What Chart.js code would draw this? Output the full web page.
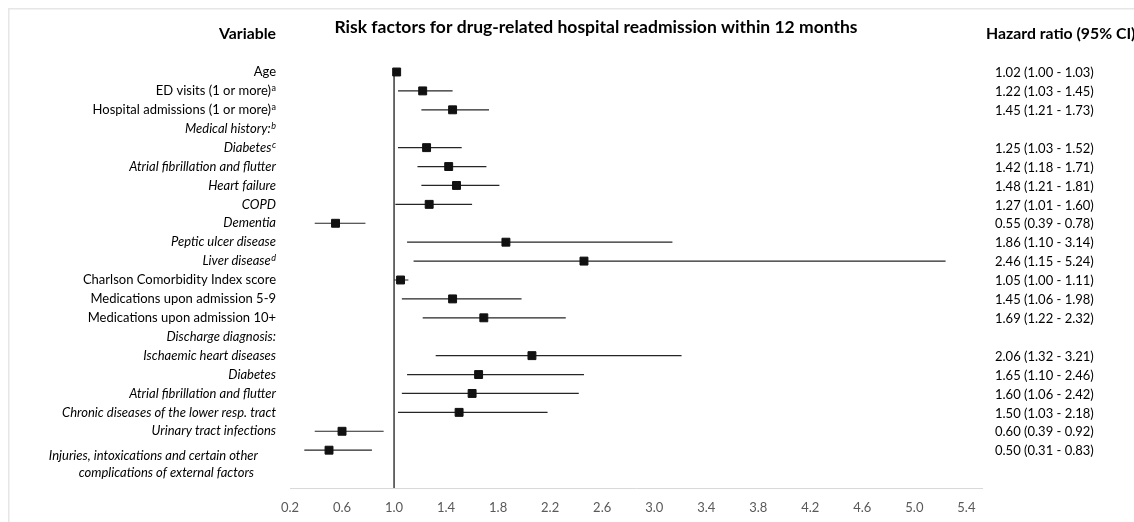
<!DOCTYPE html>
<html>
<head>
<meta charset="utf-8">
<script src="https://cdn.jsdelivr.net/npm/chart.js@4.4.1/dist/chart.umd.min.js"></script>
<style>
html,body{margin:0;padding:0;background:#fff;}
#wrap{width:1134px;height:522px;position:relative;}
</style>
</head>
<body>
<div id="wrap"><canvas id="c" width="1134" height="522"></canvas></div>
<script>
// ---- data ----
const labels = [
  "Age",
  "ED visits (1 or more)",
  "Hospital admissions (1 or more)",
  "Medical history:",
  "Diabetes",
  "Atrial fibrillation and flutter",
  "Heart failure",
  "COPD",
  "Dementia",
  "Peptic ulcer disease",
  "Liver disease",
  "Charlson Comorbidity Index score",
  "Medications upon admission 5-9",
  "Medications upon admission 10+",
  "Discharge diagnosis:",
  "Ischaemic heart diseases",
  "Diabetes",
  "Atrial fibrillation and flutter",
  "Chronic diseases of the lower resp. tract",
  "Urinary tract infections",
  "Injuries, intoxications and certain other\ncomplications of external factors"
];
const superscripts = ["", "a", "a", "b", "c", "", "", "", "", "", "d", "", "", "", "", "", "", "", "", "", ""];
const italicRows = [false, false, false, true, true, true, true, true, true, true, true, false, false, false, true, true, true, true, true, true, true];
const hr = [1.02, 1.22, 1.45, null, 1.25, 1.42, 1.48, 1.27, 0.55, 1.86, 2.46, 1.05, 1.45, 1.69, null, 2.06, 1.65, 1.60, 1.50, 0.60, 0.50];
const lo = [1.00, 1.03, 1.21, null, 1.03, 1.18, 1.21, 1.01, 0.39, 1.10, 1.15, 1.00, 1.06, 1.22, null, 1.32, 1.10, 1.06, 1.03, 0.39, 0.31];
const hi = [1.03, 1.45, 1.73, null, 1.52, 1.71, 1.81, 1.60, 0.78, 3.14, 5.24, 1.11, 1.98, 2.32, null, 3.21, 2.46, 2.42, 2.18, 0.92, 0.83];
const xTicks = [0.2, 0.6, 1.0, 1.4, 1.8, 2.2, 2.6, 3.0, 3.4, 3.8, 4.2, 4.6, 5.0, 5.4];
const title = "Risk factors for drug-related hospital readmission within 12 months";
const leftHeader = "Variable";
const rightHeader = "Hazard ratio (95% CI)";

// ---- build ----
const nRows = labels.length;
const rowY = i => nRows + 1 - i; // Age at 22, last row at 2
const markers = [];
const bars = [];
hr.forEach((v, i) => {
  if (v === null) return;
  markers.push({x: v, y: rowY(i)});
  bars.push({x: lo[i], y: rowY(i)}, {x: hi[i], y: rowY(i)}, {x: null, y: null});
});
const refLine = [{x: 1, y: 0}, {x: 1, y: rowY(0)}];

const FONT = "Lato, 'Open Sans', sans-serif";

const textPlugin = {
  id: 'texts',
  afterDraw(chart) {
    const ctx = chart.ctx;
    const ys = chart.scales.y;
    ctx.save();
    // frame
    ctx.fillStyle = '#e6e6e6';
    ctx.fillRect(8, 8, 1126, 1.5);
    ctx.fillRect(8, 8, 1.5, 514);
    // headers
    ctx.fillStyle = '#000';
    ctx.textBaseline = 'middle';
    ctx.font = "bold 17.5px " + FONT;
    ctx.textAlign = 'center';
    ctx.fillText(title, 596, 27);
    ctx.font = "bold 15.8px " + FONT;
    ctx.textAlign = 'right';
    ctx.fillText(leftHeader, 276, 34);
    ctx.textAlign = 'left';
    ctx.fillText(rightHeader, 986, 34);
    // row labels
    labels.forEach((lab, i) => {
      const y = ys.getPixelForValue(rowY(i));
      const style = italicRows[i] ? 'italic ' : '';
      const lines = lab.split('\n');
      ctx.fillStyle = '#000';
      if (lines.length === 1) {
        let x = 276;
        if (superscripts[i]) {
          ctx.font = style + "9px " + FONT;
          ctx.textAlign = 'right';
          const w = ctx.measureText(superscripts[i]).width;
          ctx.fillText(superscripts[i], x, y - 3);
          x -= w + 0.5;
        }
        ctx.font = style + "13px " + FONT;
        ctx.textAlign = 'right';
        ctx.fillText(lab, x, y);
      } else {
        ctx.font = style + "13px " + FONT;
        ctx.textAlign = 'right';
        ctx.fillText(lines[0], 258, y + 6);
        ctx.fillText(lines[1], 254, y + 23);
      }
      if (hr[i] !== null) {
        ctx.font = "13px " + FONT;
        ctx.textAlign = 'left';
        ctx.fillText(hr[i].toFixed(2) + " (" + lo[i].toFixed(2) + " - " + hi[i].toFixed(2) + ")", 995, y + 1);
      }
    });
    ctx.restore();
  }
};

new Chart(document.getElementById('c'), {
  type: 'scatter',
  data: {
    datasets: [
      {data: refLine, showLine: true, borderColor: '#3a3a3a', borderWidth: 1.5, pointRadius: 0, clip: false, order: 3},
      {data: bars, showLine: true, spanGaps: false, borderColor: '#262626', borderWidth: 1.2, pointRadius: 0, clip: false, order: 2},
      {data: markers, pointStyle: 'rect', pointRadius: 5.6, backgroundColor: '#111', borderColor: '#111', borderWidth: 1, clip: false, order: 1}
    ]
  },
  options: {
    responsive: false,
    animation: false,
    devicePixelRatio: 1,
    layout: {padding: {left: 290, right: 152, top: 72, bottom: 0}},
    plugins: {legend: {display: false}, tooltip: {enabled: false}, title: {display: false}},
    scales: {
      x: {
        type: 'linear', min: 0.2, max: 5.52,
        afterBuildTicks: s => { s.ticks = xTicks.map(v => ({value: v})); },
        afterFit: s => { s.height = 34; },
        grid: {display: false, drawTicks: false},
        border: {display: true, color: '#d9d9d9', width: 1},
        ticks: {padding: 12, color: '#595959', font: {family: FONT, size: 13}, callback: v => Number(v).toFixed(1), autoSkip: false, maxRotation: 0}
      },
      y: {type: 'linear', min: 0, max: rowY(0), display: false}
    }
  },
  plugins: [textPlugin]
});
</script>
</body>
</html>
